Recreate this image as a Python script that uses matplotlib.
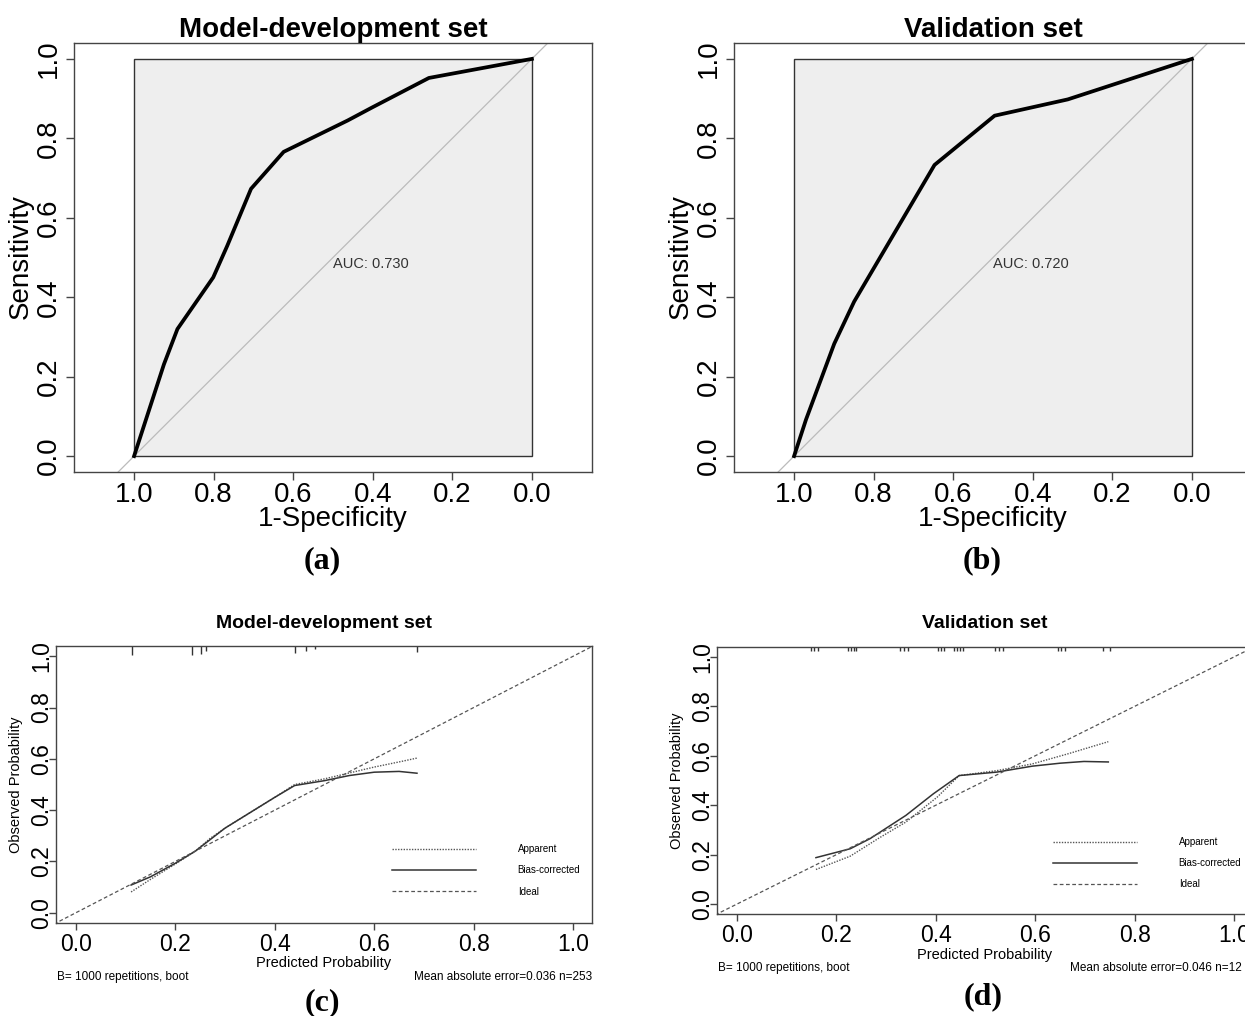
import numpy as np
import matplotlib
matplotlib.use("Agg")
import matplotlib.pyplot as plt
import matplotlib.transforms as mtransforms

plt.rcParams['font.family'] = ['Liberation Sans', 'DejaVu Sans']

# ROC curves (specificity on the reversed x axis, sensitivity on y)
dev_spec = [1.0, 0.925, 0.891, 0.801, 0.766, 0.706, 0.624, 0.463, 0.403, 0.259, 0.0]
dev_sens = [0.0, 0.231, 0.320, 0.450, 0.529, 0.673, 0.766, 0.845, 0.877, 0.952, 1.0]
val_spec = [1.0, 0.970, 0.899, 0.849, 0.647, 0.496, 0.312, 0.0]
val_sens = [0.0, 0.092, 0.283, 0.389, 0.733, 0.857, 0.898, 1.0]
dev_auc = "AUC: 0.730"
val_auc = "AUC: 0.720"

# calibration curves
dev_app_x = [0.111, 0.15, 0.2, 0.24, 0.27, 0.3, 0.35, 0.4, 0.44, 0.5, 0.55, 0.6, 0.65, 0.686]
dev_app_y = [0.081, 0.13, 0.19, 0.24, 0.29, 0.33, 0.39, 0.45, 0.50, 0.522, 0.545, 0.568, 0.588, 0.603]
dev_bias_x = [0.111, 0.15, 0.2, 0.24, 0.27, 0.3, 0.35, 0.4, 0.44, 0.5, 0.55, 0.6, 0.65, 0.686]
dev_bias_y = [0.108, 0.14, 0.193, 0.24, 0.285, 0.33, 0.39, 0.45, 0.496, 0.515, 0.535, 0.548, 0.551, 0.544]
val_app_x = [0.159, 0.228, 0.284, 0.340, 0.403, 0.447, 0.523, 0.594, 0.666, 0.747]
val_app_y = [0.140, 0.194, 0.265, 0.332, 0.433, 0.520, 0.540, 0.567, 0.608, 0.657]
val_bias_x = [0.159, 0.228, 0.268, 0.340, 0.395, 0.447, 0.523, 0.594, 0.650, 0.698, 0.747]
val_bias_y = [0.188, 0.224, 0.265, 0.359, 0.446, 0.520, 0.534, 0.558, 0.570, 0.577, 0.575]

# rug of predicted probabilities (top of the calibration plots)
dev_rug_x = [0.112, 0.233, 0.251, 0.261, 0.440, 0.462, 0.480, 0.686]
dev_rug_h = [1.0, 1.0, 0.86, 0.5, 0.79, 0.57, 0.36, 0.64]
val_rug_x = [0.150, 0.155, 0.163, 0.224, 0.229, 0.235, 0.239, 0.328, 0.336, 0.344,
             0.405, 0.411, 0.417, 0.437, 0.443, 0.449, 0.455, 0.519, 0.527, 0.535,
             0.646, 0.652, 0.660, 0.736, 0.750]

ticks = [0.0, 0.2, 0.4, 0.6, 0.8, 1.0]
tick_labels = ["0.0", "0.2", "0.4", "0.6", "0.8", "1.0"]

W, H = 1245, 1016
fig = plt.figure(figsize=(W / 100, H / 100), dpi=100)


def rect(x0, y0, x1, y1):
    return [x0 / W, 1 - y1 / H, (x1 - x0) / W, (y1 - y0) / H]


def ftext(x, y, s, **kw):
    fig.text(x / W, 1 - y / H, s, **kw)


def style_frame(ax, color='#444444'):
    for sp in ax.spines.values():
        sp.set_color(color)
        sp.set_linewidth(1.0)


def roc_panel(box, spec, sens, auc, title, tag, off):
    ax = fig.add_axes(rect(*box))
    ax.set_xlim(1.151, -0.151)
    ax.set_ylim(-0.040, 1.040)
    ax.add_patch(plt.Rectangle((0, 0), 1, 1, facecolor='#EEEEEE',
                               edgecolor='#333333', lw=1.0, zorder=1))
    # chance line sens = 1 - spec
    ax.plot([1.2, -0.2], [-0.2, 1.2], color='#BBBBBB', lw=0.9, zorder=2)
    ax.plot(spec, sens, color='black', lw=2.7, zorder=3, solid_joinstyle='round')
    ax.text(0.5, 0.5, auc, ha='left', va='top', fontsize=10.5, color='#333333', zorder=4)
    ax.set_xticks(ticks)
    ax.set_xticklabels(tick_labels, fontsize=20)
    ax.set_yticks(ticks)
    ax.set_yticklabels(tick_labels, fontsize=20, rotation=90, va='center')
    ax.tick_params(length=6, width=1, color='#444444', pad=1)
    ax.tick_params(axis='y', pad=3)
    style_frame(ax)
    ftext(off + 333, 30, title, ha='center', va='center', fontsize=20, fontweight='bold')
    ftext(off + 333, 519, "1-Specificity", ha='center', va='center', fontsize=20)
    ftext(off + 21, 257, "Sensitivity", ha='center', va='center', fontsize=20, rotation=90)
    ftext(off + 322, 561, tag, ha='center', va='center', fontsize=23,
          fontweight='bold', family='Liberation Serif')
    return ax


def cal_panel(box, app_x, app_y, bias_x, bias_y, rug_x, rug_h, title, mae, tag,
              xc, title_y, xlab_y, foot_y, foot_right, tag_y, leg_anchor):
    ax = fig.add_axes(rect(*box))
    ax.set_xlim(-0.040, 1.038)
    ax.set_ylim(-0.040, 1.040)
    l1, = ax.plot(app_x, app_y, color='#555555', lw=1.0, linestyle=(0, (1, 1)))
    l2, = ax.plot(bias_x, bias_y, color='#333333', lw=1.1)
    l3, = ax.plot([-0.1, 1.1], [-0.1, 1.1], color='#555555', lw=0.9, linestyle=(0, (3, 2)))
    trans = mtransforms.blended_transform_factory(ax.transData, ax.transAxes)
    ax.vlines(rug_x, 1 - 0.034 * np.array(rug_h), 1.0, color='#333333', lw=1.0,
              transform=trans)
    ax.legend([l1, l2, l3], ["Apparent", "Bias-corrected", "Ideal"], frameon=False,
              fontsize=7, handlelength=8.6, handletextpad=4.3, labelspacing=1.15,
              loc='center left', bbox_to_anchor=leg_anchor, borderaxespad=0)
    ax.set_xticks(ticks)
    ax.set_xticklabels(tick_labels, fontsize=16.5)
    ax.set_yticks(ticks)
    ax.set_yticklabels(tick_labels, fontsize=16.5, rotation=90, va='center')
    ax.tick_params(length=5, width=1, color='#444444', pad=2)
    ax.tick_params(axis='y', pad=-3)
    style_frame(ax)
    x0 = box[0]
    ftext(xc, title_y, title, ha='center', va='center', fontsize=14, fontweight='bold')
    ftext(xc, xlab_y, "Predicted Probability", ha='center', va='center', fontsize=10.5)
    ftext(x0 - 40, (box[1] + box[3]) / 2, "Observed Probability", ha='center',
          va='center', fontsize=10.5, rotation=90)
    ftext(x0 + 1, foot_y, "B= 1000 repetitions, boot", ha='left', va='center', fontsize=8.5)
    ftext(foot_right, foot_y, mae, ha='right', va='center', fontsize=8.5)
    ftext(xc - 2, tag_y, tag, ha='center', va='center', fontsize=23,
          fontweight='bold', family='Liberation Serif')
    return ax


roc_panel((74, 43, 592, 472), dev_spec, dev_sens, dev_auc, "Model-development set", "(a)", 0)
roc_panel((734, 43, 1252, 472), val_spec, val_sens, val_auc, "Validation set", "(b)", 660)

cal_panel((56, 646, 592, 923), dev_app_x, dev_app_y, dev_bias_x, dev_bias_y,
          dev_rug_x, dev_rug_h, "Model-development set",
          "Mean absolute error=0.036 n=253", "(c)",
          324, 623, 963, 977, 592, 1003, (0.62, 0.19))
cal_panel((717, 647, 1253, 914), val_app_x, val_app_y, val_bias_x, val_bias_y,
          val_rug_x, [0.4] * len(val_rug_x), "Validation set",
          "Mean absolute error=0.046 n=12", "(d)",
          985, 623, 955, 968, 1242, 997, (0.62, 0.19))

fig.savefig("out.png", dpi=100, facecolor='white')
